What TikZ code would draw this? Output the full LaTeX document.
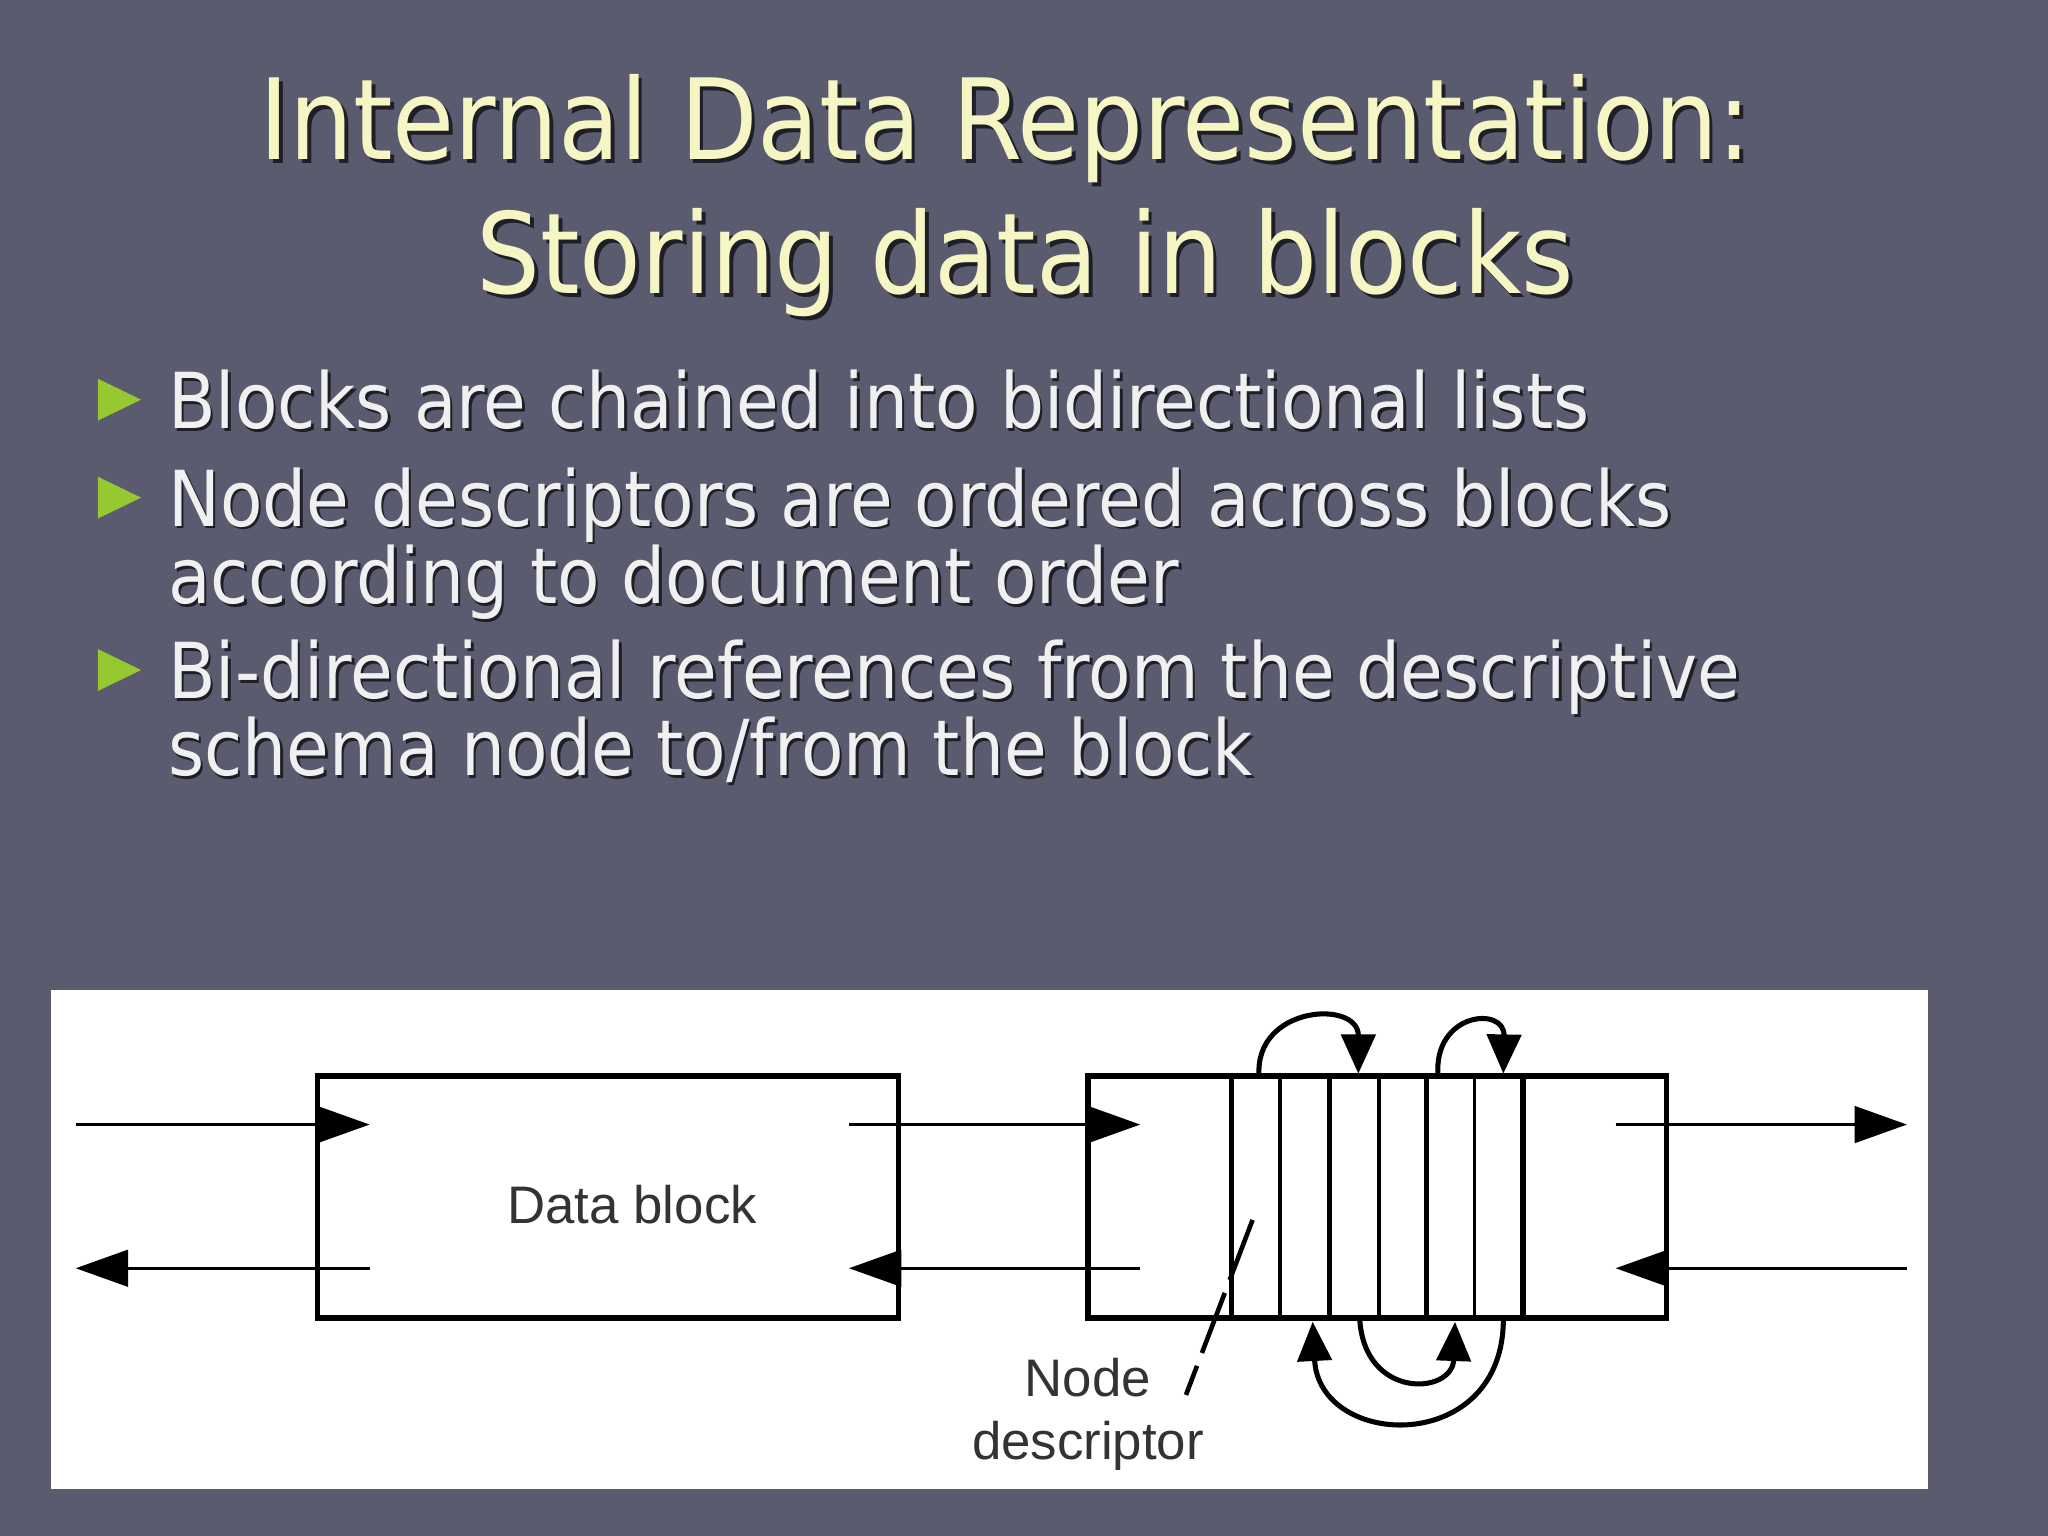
\documentclass[tikz,border=0pt]{standalone}
\usepackage{fontspec}
\setmainfont{DejaVu Sans Condensed}
\newfontfamily\diagfont{Liberation Sans}
\usetikzlibrary{arrows.meta}
\definecolor{bg}{RGB}{90,91,110}
\definecolor{ttl}{RGB}{246,246,196}
\definecolor{bul}{RGB}{150,200,50}
\definecolor{shd}{RGB}{30,30,40}
\begin{document}
\begin{tikzpicture}[x=0.01cm,y=-0.01cm,
  title/.style={font=\fontsize{24.4}{27}\selectfont,text=ttl,anchor=base,inner sep=0},
  btext/.style={font=\fontsize{16.8}{19}\selectfont,text=white!94!black,anchor=base west,inner sep=0},
  shadow/.style={text=shd},
  thin/.style={line width=0.6pt,black},
  thick/.style={line width=1.2pt,black},
  arr/.style={thin,-{Triangle[length=0.4cm,width=0.28cm]}},
  carr/.style={line width=1.1pt,-{Triangle[length=0.3cm,width=0.26cm]}},
  lbl/.style={font=\diagfont\fontsize{11.5}{14}\selectfont,text=black!80,inner sep=0,align=center}]
\fill[bg] (0,0) rectangle (1568,1176);
\useasboundingbox (0,0) rectangle (1568,1176);
% title
\foreach \t/\x/\y in {{Internal Data Representation:}/770/122,{Storing data in blocks}/785/225}{
  \node[title,shadow] at (\x+3,\y+3) {\t};
  \node[title] (t\y) at (\x,\y) {\t};}
% bullets
\foreach \t/\y in {{Blocks are chained into bidirectional lists}/328,{Node descriptors are ordered across blocks}/403,{according to document order}/462,{Bi-directional references from the descriptive}/535,{schema node to/from the block}/594}{
  \node[btext,shadow] at (130,\y+2) {\t};
  \node[btext] (b\y) at (128,\y) {\t};}
\foreach \y in {290,365,497}{
  \fill[bul] (75,\y) -- (108,\y+16) -- (75,\y+32) -- cycle;}
% white panel
\fill[white] (39,758) rectangle (1476,1140);
% data block
\draw[thick] (243,824) rectangle (688,1009);
\node[lbl] (db) at (484,922) {Data block};
\draw[thick] (833,824) rectangle (1276,1009);
\foreach \x/\w in {943/1.2pt,980/0.8pt,1018/1.2pt,1056/0.8pt,1092/1.2pt,1129/0.8pt,1166/1.2pt}{
  \draw[line width=\w] (\x,824) -- (\x,1009);}
% chain arrows
\coordinate (a1) at (58,861); \coordinate (a2) at (283,861);
\coordinate (a3) at (283,971); \coordinate (a4) at (58,971);
\coordinate (b1) at (650,861); \coordinate (b2) at (873,861);
\coordinate (b3) at (873,971); \coordinate (b4) at (650,971);
\coordinate (c1) at (1237,861); \coordinate (c2) at (1460,861);
\coordinate (c3) at (1460,971); \coordinate (c4) at (1237,971);
\foreach \s/\e in {a1/a2,a3/a4,b1/b2,b3/b4,c1/c2,c3/c4}{\draw[arr] (\s) -- (\e);}
% self references
\coordinate (p1) at (964,824); \coordinate (p2) at (1040,822);
\coordinate (p3) at (1101,824); \coordinate (p4) at (1151,822);
\coordinate (q1) at (1041,1009); \coordinate (q2) at (1114,1012);
\coordinate (q3) at (1151,1009); \coordinate (q4) at (1005,1012);
\draw[carr] (p1) .. controls (960,770) and (1040,765) .. (p2);
\draw[carr] (p3) .. controls (1097,775) and (1152,770) .. (p4);
\draw[carr] (q1) .. controls (1044,1072) and (1112,1068) .. (q2);
\draw[carr] (q3) .. controls (1152,1115) and (1010,1110) .. (q4);
% node descriptor label
\node[lbl] (nd1) at (833,1055) {Node};
\node[lbl] (nd2) at (833,1107) {descriptor};
\coordinate (d1) at (959,934); \coordinate (d2) at (908,1068);
\draw[line width=1pt,dash pattern=on 14pt off 3pt] (d1) -- (d2);
\end{tikzpicture}
\end{document}
